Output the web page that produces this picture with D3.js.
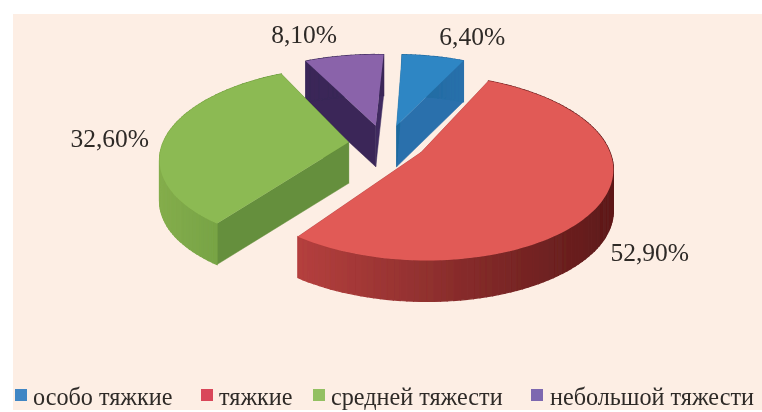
<!DOCTYPE html>
<html lang="ru">
<head>
<meta charset="utf-8">
<script src="https://cdnjs.cloudflare.com/ajax/libs/d3/7.8.5/d3.min.js"></script>
<style>
  html, body { margin: 0; padding: 0; background: #fff; }
  svg { display: block; }
  text { font-family: "Liberation Serif", serif; fill: #2e2a28; }
</style>
</head>
<body>
<svg id="chart" width="762" height="412"></svg>
<script>
const categories = ['особо тяжкие', 'тяжкие', 'средней тяжести', 'небольшой тяжести'];
const values = [6.4, 52.9, 32.6, 8.1];
const valueLabels = ['6,40%', '52,90%', '32,60%', '8,10%'];

const topColors = ['#2f86c4', '#e15a56', '#8cba52', '#8a63aa'];
const legendColors = ['#3f86c4', '#d9465a', '#93c062', '#7d68b0'];
const startWallColors = ['#1d6a9e', '#a83c3a', '#658f3c', '#3a2858'];
const endWallColors = ['#2a70ac', '#a83c3a', '#658f3c', '#3f2c60'];
const rimLeftColors = ['#1d6a9e', '#b5403e', '#84ad4c', '#3a2858'];
const rimRightColors = ['#2a70ac', '#5e1a1a', '#6a9a3e', '#3a2858'];

const size = {width: 762, height: 412};
const view = {
  cx: 392, cy: 144, rx: 186, ry: 88, perspective: 0.16, depth: 41,
  rotation: 2.5 * Math.PI / 180, explode: [0.22, 0.18, 0.24, 0.22],
  sliceShiftX: [-5, 0, 1, -8]
};
const labelStyle = {fontSize: 25.5, nudge: [[39, -20], [49, 50], [-57, 3], [-40, -21]]};
const legendStyle = {y: 396, box: 12, fontSize: 24.2, boxX: [15, 201, 313, 531], textX: [33, 219, 331, 550]};

const svg = d3.select('#chart');

const defs = svg.append('defs');
defs.append('filter').attr('id', 'soft')
  .append('feGaussianBlur').attr('stdDeviation', 0.6);

svg.append('rect')
  .attr('x', 13).attr('y', 14)
  .attr('width', size.width - 13).attr('height', size.height - 16)
  .attr('fill', '#fdeee4');

const pie = d3.pie().sort(null).value(d => d)
  .startAngle(view.rotation).endAngle(view.rotation + 2 * Math.PI);
const slices = pie(values).map((d, i) => ({...d, i, mid: (d.startAngle + d.endAngle) / 2}));

// angle is clockwise from the back of the disc, z is height above the bottom face
function project(slice, angle, r, z) {
  const e = view.explode[slice.i];
  const X = Math.sin(slice.mid) * e + Math.sin(angle) * r;
  const Y = -Math.cos(slice.mid) * e - Math.cos(angle) * r;
  const s = 1 / (1 - view.perspective * Y);
  return [
    view.cx + view.sliceShiftX[slice.i] + view.rx * X * s,
    view.cy + view.ry * Y * s + (view.depth - z)
  ];
}

const line = d3.line();
const closed = pts => line(pts) + 'Z';

function rimAngles(slice) {
  const n = Math.ceil((slice.endAngle - slice.startAngle) / 0.03);
  return d3.range(n + 1).map(k => slice.startAngle + (slice.endAngle - slice.startAngle) * k / n);
}

function drawSlice(g, slice) {
  const i = slice.i;
  const wall = (angle, color) => g.append('path')
    .attr('d', closed([
      project(slice, angle, 0, view.depth), project(slice, angle, 1, view.depth),
      project(slice, angle, 1, 0), project(slice, angle, 0, 0)
    ]))
    .attr('fill', color).attr('stroke', color).attr('stroke-width', 0.5);

  wall(slice.endAngle, endWallColors[i]);
  wall(slice.startAngle, startWallColors[i]);

  // outer wall in thin strips, shaded by where the strip lands on screen
  const angles = rimAngles(slice);
  const xs = angles.map(a => project(slice, a, 1, 0)[0]);
  const shade = d3.scaleLinear().domain(d3.extent(xs)).range([0, 1]);
  const mix = d3.interpolateRgb(rimLeftColors[i], rimRightColors[i]);
  d3.pairs(angles).forEach(([a, b], k) => {
    const color = mix(shade(xs[k]));
    g.append('path')
      .attr('d', closed([
        project(slice, a, 1, view.depth), project(slice, b, 1, view.depth),
        project(slice, b, 1, 0), project(slice, a, 1, 0)
      ]))
      .attr('fill', color).attr('stroke', color).attr('stroke-width', 1.2);
  });

  const top = [project(slice, 0, 0, view.depth)]
    .concat(angles.map(a => project(slice, a, 1, view.depth)));
  g.append('path')
    .attr('d', closed(top))
    .attr('fill', topColors[i]);
}

const pieGroup = svg.append('g').attr('filter', 'url(#soft)');
// back slices first so the front ones paint over them
[3, 0, 2, 1].forEach(i => drawSlice(pieGroup.append('g'), slices[i]));

const labels = svg.append('g').attr('filter', 'url(#soft)');
slices.forEach(slice => {
  const p = project(slice, slice.mid, 1, view.depth);
  const nudge = labelStyle.nudge[slice.i];
  labels.append('text')
    .attr('x', p[0] + nudge[0])
    .attr('y', p[1] + nudge[1])
    .attr('text-anchor', 'middle')
    .attr('dominant-baseline', 'central')
    .attr('font-size', labelStyle.fontSize)
    .text(valueLabels[slice.i]);
});

const legend = svg.append('g').attr('filter', 'url(#soft)');
categories.forEach((name, i) => {
  legend.append('rect')
    .attr('x', legendStyle.boxX[i])
    .attr('y', legendStyle.y - legendStyle.box / 2 - 1)
    .attr('width', legendStyle.box).attr('height', legendStyle.box)
    .attr('fill', legendColors[i]);
  legend.append('text')
    .attr('x', legendStyle.textX[i])
    .attr('y', legendStyle.y)
    .attr('dominant-baseline', 'central')
    .attr('font-size', legendStyle.fontSize)
    .text(name);
});
</script>
</body>
</html>
